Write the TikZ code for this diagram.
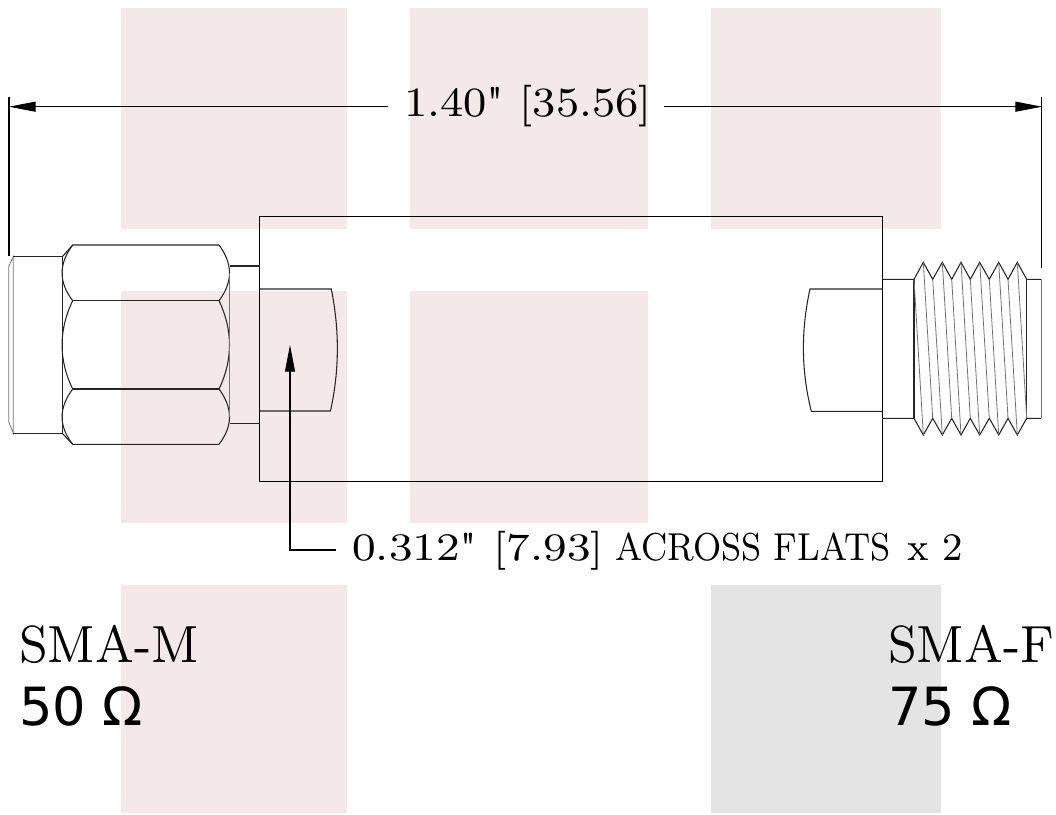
\documentclass[tikz,border=0pt]{standalone}
\usepackage{fontspec}
\usetikzlibrary{arrows.meta}
\newfontfamily\ohmfont{DejaVu Sans}
\definecolor{panelpink}{HTML}{F4E8E8}
\definecolor{panelgray}{HTML}{E4E4E4}
\newcommand{\smalllabel}[3]{\scalebox{#1}[#2]{\fontsize{8}{10}\selectfont #3}}
\newcommand{\inchmark}{\XeTeXglyph\XeTeXglyphindex "quotedbl"\relax}
\tikzset{
	outline/.style = {line width=0.8pt,black!85},
	fine/.style = {line width=0.6pt,black!55},
	dimline/.style = {line width=0.8pt,black,-{Triangle[length=20pt,width=7.5pt]}},
	dimtext/.style = {anchor=base west,inner sep=0pt,black}
}
\begin{document}
\begin{tikzpicture}[x=0.75pt,y=-0.75pt]
	\useasboundingbox (0,0) rectangle (1056,814);
	
	\foreach \xa/\xb/\ya/\yb in {121/347/8/229,410/648/8/229,711/941/8/229,121/347/291/523,410/648/291/523,121/347/585/813}
		\fill[panelpink] (\xa,\ya) rectangle (\xb,\yb);
	\fill[panelgray] (711,585) rectangle (941,813);
	
	\draw[line width=0.6pt,black] (259.5,216.5) rectangle (882.5,481.5);
	
	\draw[fine] (8.7,266.7)--(13.3,256.7)--(13.3,433.3)--(8.7,421.7)--cycle;
	\draw[outline] (13.3,256.7)--(62.3,256.7)--(62.3,433.3)--(13.3,433.3);
	\draw[outline] (62.3,256.7)--(72.7,245)--(219,245);
	\draw[outline] (62.3,433.3)--(72.7,444.3)--(219,444.3);
	\draw[outline] (72.7,300.7)--(219,300.7) (72.7,389)--(219,389);
	\foreach \ya/\yb/\yc/\yd in {245/264/282/300.7,300.7/330/360/389,389/408/426/444.3}{
		\draw[outline] (219,\ya) .. controls (233,\yb) and (233,\yc) .. (219,\yd);
		\draw[outline] (72.7,\ya) .. controls (58.5,\yb) and (58.5,\yc) .. (72.7,\yd);
	}
	\draw[fine] (229.5,273)--(229.5,417);
	\draw[outline] (229.5,266)--(260,266) (229.5,423.3)--(260,423.3);
	
	\draw[outline] (260,289)--(331.3,289) .. controls (339.5,330) and (339.5,370) .. (330.5,411)--(260,411);
	\draw[outline] (882,289)--(810,289) .. controls (801,330) and (801,370) .. (811.3,411.3)--(882,411.3);
	
	\draw[outline] (882,279.3)--(914,279.3)--(923.3,262.3)--(932.7,279.3)--(942.3,262.3)--(951.7,279.3)--(961,262.3)--(970.3,279.3)--(979.7,262.3)--(989.3,279.3)--(998.7,262.3)--(1008,279.3)--(1017.3,262.3)--(1026.7,279.3)--(1041.3,279.3);
	\draw[outline] (882,418.3)--(914,418.3)--(923.3,435)--(932.7,418.3)--(942.3,435)--(951.7,418.3)--(961,435)--(970.3,418.3)--(979.7,435)--(989.3,418.3)--(998.7,435)--(1008,418.3)--(1017.3,435)--(1026.7,418.3)--(1041.3,418.3);
	\draw[outline] (914,279.3)--(914,418.3) (1026.7,279.3)--(1026.7,418.3);
	\draw[fine] (1041.3,279.3)--(1041.3,418.3);
	\foreach \xa/\ya/\xb/\yb in {914/279.3/923.3/435,923.3/262.3/932.7/418.3,932.7/279.3/942.3/435,942.3/262.3/951.7/418.3,951.7/279.3/961/435,961/262.3/970.3/418.3,970.3/279.3/979.7/435,979.7/262.3/989.3/418.3,989.3/279.3/998.7/435,998.7/262.3/1008/418.3,1008/279.3/1017.3/435,1017.3/262.3/1026.7/418.3}
		\draw[fine] (\xa,\ya)--(\xb,\yb);
	
	\coordinate (dimL) at (9,106.7);
	\coordinate (dimR) at (1042,106.7);
	\coordinate (gapL) at (387.5,106.7);
	\coordinate (gapR) at (664,106.7);
	\coordinate (flatTip) at (290,345);
	\coordinate (flatBend) at (290,550);
	\coordinate (flatEnd) at (335.5,550);
	
	\draw[outline,black] (9,97)--(9,256) (1041.5,97)--(1041.5,268);
	\draw[dimline] (gapL)--(dimL);
	\draw[dimline] (gapR)--(dimR);
	\draw[dimline] (flatEnd)--(flatBend)--(flatTip);
	
	\node[dimtext] (overall) at (404,116.7) {\smalllabel{4.1}{3.9}{1.40\inchmark\ [35.56]}};
	\node[dimtext] (flatsval) at (352,560) {\smalllabel{4.17}{3.65}{0.312\inchmark\ [7.93]}};
	\node[dimtext] (flatsname) at (615,560) {\smalllabel{3.2}{3.65}{ACROSS FLATS}};
	\node[dimtext] (flatsx) at (907,560) {\smalllabel{3.6}{3.65}{x 2}};
	\node[dimtext] (smaM) at (19,662) {\smalllabel{4.56}{4.9}{SMA-M}};
	\node[dimtext] (smaF) at (888,662) {\smalllabel{4.56}{4.9}{SMA-F}};
	\node[dimtext] (ohmM) at (19,725) {\fontsize{39.5}{44}\ohmfont 50 Ω};
	\node[dimtext] (ohmF) at (888,725) {\fontsize{39.5}{44}\ohmfont 75 Ω};
\end{tikzpicture}
\end{document}
